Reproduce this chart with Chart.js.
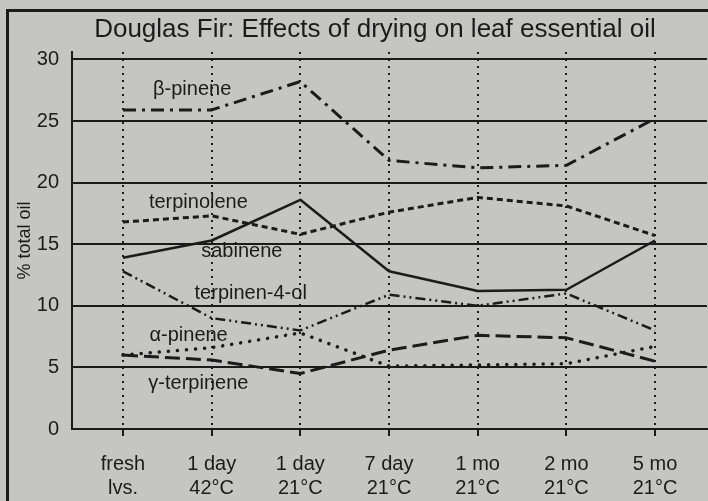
<!DOCTYPE html>
<html><head><meta charset="utf-8">
<script src="https://cdn.jsdelivr.net/npm/chart.js@4/dist/chart.umd.min.js"></script>
<style>html,body{margin:0;padding:0;background:#c5c5c1;overflow:hidden}</style>
</head><body>
<canvas id="c" width="708" height="501"></canvas>
<script>
// ---- data ----
const categories = [["fresh","lvs."],["1 day","42°C"],["1 day","21°C"],["7 day","21°C"],["1 mo","21°C"],["2 mo","21°C"],["5 mo","21°C"]];
const seriesNames = ["β-pinene","terpinolene","sabinene","terpinen-4-ol","α-pinene","γ-terpinene"];
const betaPinene     = [25.9, 25.9, 28.2, 21.8, 21.2, 21.4, 25.2];
const terpinolene    = [16.8, 17.3, 15.8, 17.6, 18.8, 18.1, 15.7];
const sabinene       = [13.9, 15.3, 18.6, 12.8, 11.2, 11.3, 15.3];
const terpinen4ol    = [12.8, 9.0, 8.0, 10.9, 10.0, 11.0, 8.0];
const alphaPinene    = [6.0, 6.6, 7.8, 5.1, 5.2, 5.3, 6.7];
const gammaTerpinene = [6.0, 5.6, 4.5, 6.4, 7.6, 7.4, 5.5];
const yTicks = [0, 5, 10, 15, 20, 25, 30];
const titleText = "Douglas Fir: Effects of drying on leaf essential oil";
const yTitle = "% total oil";

// ---- styling ----
const INK = '#1b1b1b';
const BG = '#c5c5c1';
const FONT = "'Liberation Sans', Arial, Helvetica, sans-serif";
const seriesValues = [betaPinene, terpinolene, sabinene, terpinen4ol, alphaPinene, gammaTerpinene];
const lineStyles = [
  {dash:[13,6,3,6], width:3, cap:'butt'},
  {dash:[6,4], width:3, cap:'butt'},
  {dash:[], width:2.5, cap:'butt'},
  {dash:[10,4,2,4,2,4], width:2.5, cap:'butt'},
  {dash:[0.1,9], width:3.5, cap:'round'},
  {dash:[15,6], width:3, cap:'butt'}
];
// label anchors in data units (category index, % value)
const labelAnchors = [[0.78,27.57],[0.85,18.4],[1.34,14.44],[1.44,11.03],[0.74,7.62],[0.85,3.73]];

const datasets = seriesValues.map((vals, i) => ({
  label: seriesNames[i],
  data: vals.map((v, j) => ({x: j, y: v})),
  borderColor: INK,
  borderWidth: lineStyles[i].width,
  borderDash: lineStyles[i].dash,
  borderCapStyle: lineStyles[i].cap,
  borderJoinStyle: 'round',
  pointRadius: 0,
  fill: false,
  tension: 0
}));

const decor = {
  id: 'decor',
  beforeDraw(chart) {
    const ctx = chart.ctx;
    ctx.save();
    ctx.fillStyle = BG;
    ctx.fillRect(0, 0, chart.width, chart.height);
    ctx.fillStyle = INK;
    ctx.fillRect(6, 9, chart.width - 6, 3);
    ctx.fillRect(6, 9, 3, chart.height - 9);
    ctx.restore();
  },
  afterDatasetsDraw(chart) {
    const ctx = chart.ctx, xs = chart.scales.x, ys = chart.scales.y;
    ctx.save();
    ctx.fillStyle = INK;
    ctx.font = `20px ${FONT}`;
    ctx.textAlign = 'center';
    ctx.textBaseline = 'middle';
    seriesNames.forEach((n, i) => {
      ctx.fillText(n, xs.getPixelForValue(labelAnchors[i][0]), ys.getPixelForValue(labelAnchors[i][1]));
    });
    ctx.font = `26px ${FONT}`;
    ctx.fillText(titleText, 375, 30);
    ctx.restore();
  }
};

new Chart(document.getElementById('c'), {
  type: 'line',
  data: { datasets },
  plugins: [decor],
  options: {
    responsive: false,
    devicePixelRatio: 1,
    animation: false,
    layout: { padding: { top: 52, right: 1, left: 0, bottom: 0 } },
    plugins: { legend: { display: false }, tooltip: { enabled: false }, title: { display: false } },
    scales: {
      x: {
        type: 'linear',
        min: -0.575,
        max: 6.586,
        afterBuildTicks: s => { s.ticks = categories.map((_, i) => ({ value: i })); },
        afterFit: s => { s.height = 72; },
        ticks: {
          callback: v => categories[v],
          color: INK,
          font: { family: FONT, size: 20 },
          padding: 16,
          maxRotation: 0,
          autoSkip: false
        },
        grid: {
          color: INK, lineWidth: 2, drawTicks: true, tickLength: 7,
          tickBorderDash: [], tickColor: INK, tickWidth: 2
        },
        border: { display: true, color: INK, width: 2, dash: [2, 5] }
      },
      y: {
        min: 0,
        max: 30.6,
        afterBuildTicks: s => { s.ticks = yTicks.map(v => ({ value: v })); },
        afterFit: s => { s.width = 72; },
        ticks: { color: INK, font: { family: FONT, size: 20 }, padding: 13 },
        grid: { color: INK, lineWidth: 2, drawTicks: false },
        border: { display: true, color: INK, width: 2 },
        title: {
          display: true, text: yTitle, color: INK,
          font: { family: FONT, size: 18 }, padding: { top: 14, bottom: 0 }
        }
      }
    }
  }
});
</script>
</body></html>
